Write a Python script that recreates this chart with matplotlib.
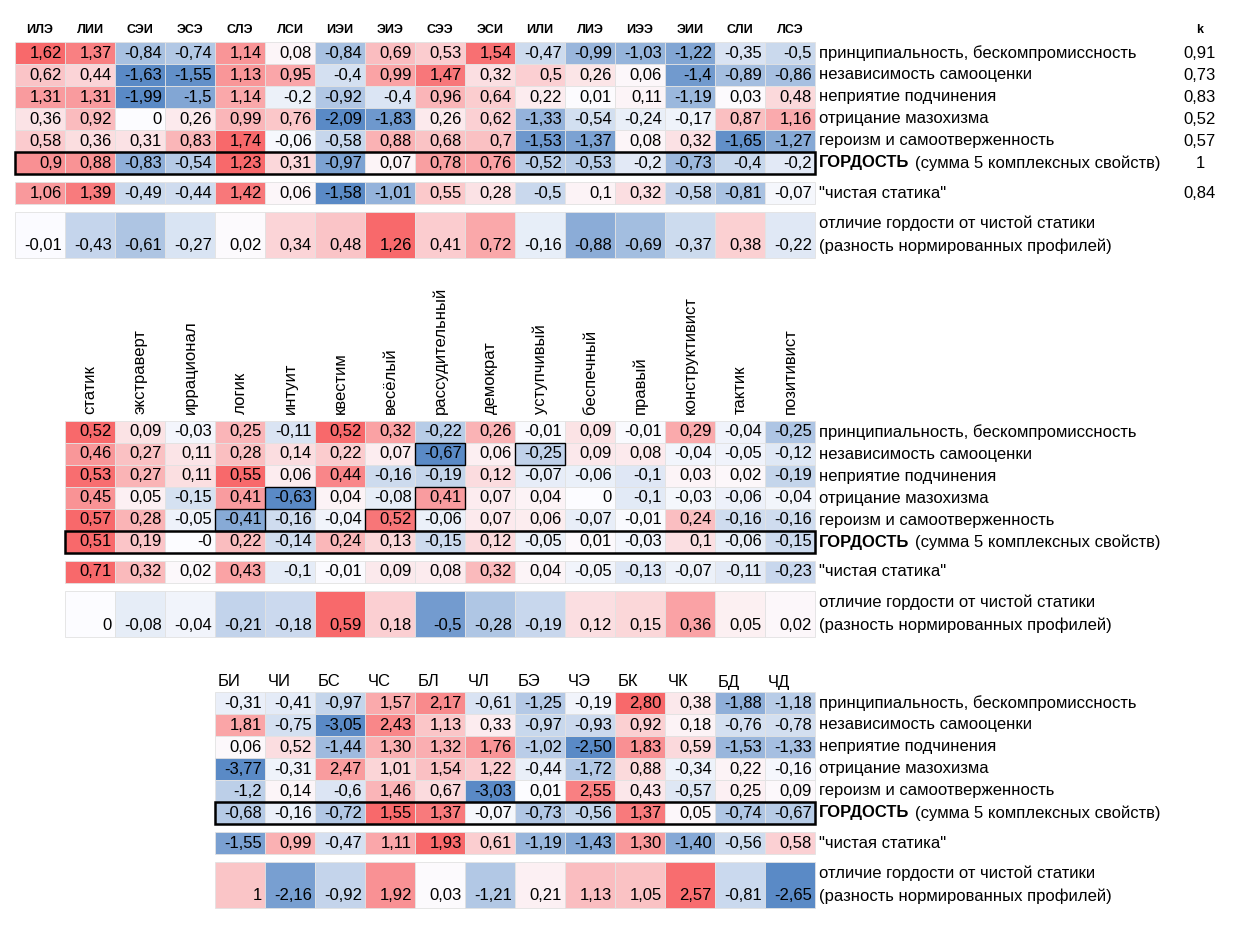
import matplotlib.pyplot as plt
from matplotlib.patches import Rectangle
import numpy as np

plt.rcParams['font.family'] = ['Liberation Sans', 'DejaVu Sans']

row_labels = ["принципиальность, бескомпромиссность", "независимость самооценки",
              "неприятие подчинения", "отрицание мазохизма", "героизм и самоотверженность"]

# table 1: sociotypes
types1 = ["ИЛЭ", "ЛИИ", "СЭИ", "ЭСЭ", "СЛЭ", "ЛСИ", "ИЭИ", "ЭИЭ",
          "СЭЭ", "ЭСИ", "ИЛИ", "ЛИЭ", "ИЭЭ", "ЭИИ", "СЛИ", "ЛСЭ"]
t1 = [
    "1,62 1,37 -0,84 -0,74 1,14 0,08 -0,84 0,69 0,53 1,54 -0,47 -0,99 -1,03 -1,22 -0,35 -0,5",
    "0,62 0,44 -1,63 -1,55 1,13 0,95 -0,4 0,99 1,47 0,32 0,5 0,26 0,06 -1,4 -0,89 -0,86",
    "1,31 1,31 -1,99 -1,5 1,14 -0,2 -0,92 -0,4 0,96 0,64 0,22 0,01 0,11 -1,19 0,03 0,48",
    "0,36 0,92 0 0,26 0,99 0,76 -2,09 -1,83 0,26 0,62 -1,33 -0,54 -0,24 -0,17 0,87 1,16",
    "0,58 0,36 0,31 0,83 1,74 -0,06 -0,58 0,88 0,68 0,7 -1,53 -1,37 0,08 0,32 -1,65 -1,27",
    "0,9 0,88 -0,83 -0,54 1,23 0,31 -0,97 0,07 0,78 0,76 -0,52 -0,53 -0,2 -0,73 -0,4 -0,2",
    "1,06 1,39 -0,49 -0,44 1,42 0,06 -1,58 -1,01 0,55 0,28 -0,5 0,1 0,32 -0,58 -0,81 -0,07",
    "-0,01 -0,43 -0,61 -0,27 0,02 0,34 0,48 1,26 0,41 0,72 -0,16 -0,88 -0,69 -0,37 0,38 -0,22",
]
k_values = ["0,91", "0,73", "0,83", "0,52", "0,57", "1", "0,84"]

# table 2: Reinin traits
traits2 = ["статик", "экстраверт", "иррационал", "логик", "интуит", "квестим", "весёлый",
           "рассудительный", "демократ", "уступчивый", "беспечный", "правый",
           "конструктивист", "тактик", "позитивист"]
t2 = [
    "0,52 0,09 -0,03 0,25 -0,11 0,52 0,32 -0,22 0,26 -0,01 0,09 -0,01 0,29 -0,04 -0,25",
    "0,46 0,27 0,11 0,28 0,14 0,22 0,07 -0,67 0,06 -0,25 0,09 0,08 -0,04 -0,05 -0,12",
    "0,53 0,27 0,11 0,55 0,06 0,44 -0,16 -0,19 0,12 -0,07 -0,06 -0,1 0,03 0,02 -0,19",
    "0,45 0,05 -0,15 0,41 -0,63 0,04 -0,08 0,41 0,07 0,04 0 -0,1 -0,03 -0,06 -0,04",
    "0,57 0,28 -0,05 -0,41 -0,16 -0,04 0,52 -0,06 0,07 0,06 -0,07 -0,01 0,24 -0,16 -0,16",
    "0,51 0,19 -0 0,22 -0,14 0,24 0,13 -0,15 0,12 -0,05 0,01 -0,03 0,1 -0,06 -0,15",
    "0,71 0,32 0,02 0,43 -0,1 -0,01 0,09 0,08 0,32 0,04 -0,05 -0,13 -0,07 -0,11 -0,23",
    "0 -0,08 -0,04 -0,21 -0,18 0,59 0,18 -0,5 -0,28 -0,19 0,12 0,15 0,36 0,05 0,02",
]
boxed2 = [(1, 7), (1, 9), (3, 4), (3, 7), (4, 3), (4, 6)]

# table 3: functions
funcs3 = ["БИ", "ЧИ", "БС", "ЧС", "БЛ", "ЧЛ", "БЭ", "ЧЭ", "БК", "ЧК", "БД", "ЧД"]
t3 = [
    "-0,31 -0,41 -0,97 1,57 2,17 -0,61 -1,25 -0,19 2,80 0,38 -1,88 -1,18",
    "1,81 -0,75 -3,05 2,43 1,13 0,33 -0,97 -0,93 0,92 0,18 -0,76 -0,78",
    "0,06 0,52 -1,44 1,30 1,32 1,76 -1,02 -2,50 1,83 0,59 -1,53 -1,33",
    "-3,77 -0,31 2,47 1,01 1,54 1,22 -0,44 -1,72 0,88 -0,34 0,22 -0,16",
    "-1,2 0,14 -0,6 1,46 0,67 -3,03 0,01 2,55 0,43 -0,57 0,25 0,09",
    "-0,68 -0,16 -0,72 1,55 1,37 -0,07 -0,73 -0,56 1,37 0,05 -0,74 -0,67",
    "-1,55 0,99 -0,47 1,11 1,93 0,61 -1,19 -1,43 1,30 -1,40 -0,56 0,58",
    "1 -2,16 -0,92 1,92 0,03 -1,21 0,21 1,13 1,05 2,57 -0,81 -2,65",
]

RED = np.array([248, 105, 107]) / 255
BLUE = np.array([90, 138, 198]) / 255
WHITE = np.array([252, 252, 255]) / 255


def cell_color(v, vmax):
    t = min(abs(v) / vmax, 1.0) if vmax else 0
    end = RED if v > 0 else BLUE
    return WHITE + (end - WHITE) * t


fig = plt.figure(figsize=(12.42, 9.42), dpi=100)
ax = fig.add_axes([0, 0, 1, 1])
ax.set_xlim(0, 1242)
ax.set_ylim(942, 0)
ax.axis("off")

FS = 12


def draw_table(rows, x0, cw, tops, heights, label_x, boxed=()):
    ncol = len(rows[0].split())
    for r, line in enumerate(rows):
        strs = line.split()
        vals = np.array([float(s.replace(",", ".")) for s in strs])
        vmax = np.abs(vals).max()
        top, h = tops[r], heights[r]
        for c, (s, v) in enumerate(zip(strs, vals)):
            x = x0 + c * cw
            ax.add_patch(Rectangle((x, top), cw, h, facecolor=cell_color(v, vmax),
                                   edgecolor="#e2e2e2", lw=0.6))
            ty = top + h / 2 if h < 30 else top + h - 12
            ax.text(x + cw - 3, ty, s, ha="right", va="center", fontsize=FS)
        if r < 5:
            ax.text(label_x, top + h / 2, row_labels[r], ha="left", va="center", fontsize=FS)
        elif r == 5:
            ax.text(label_x, top + h / 2, "ГОРДОСТЬ", ha="left", va="center",
                    fontsize=FS, fontweight="bold")
            ax.text(label_x + 96, top + h / 2, "(сумма 5 комплексных свойств)",
                    ha="left", va="center", fontsize=FS)
            ax.add_patch(Rectangle((x0, top), cw * ncol, h, fill=False,
                                   edgecolor="black", lw=1.8, zorder=5))
        elif r == 6:
            ax.text(label_x, top + h / 2, '"чистая статика"', ha="left", va="center", fontsize=FS)
        else:
            ax.text(label_x, top + h - 35, "отличие гордости от чистой статики",
                    ha="left", va="center", fontsize=FS)
            ax.text(label_x, top + h - 12, "(разность нормированных профилей)",
                    ha="left", va="center", fontsize=FS)
    for r, c in boxed:
        ax.add_patch(Rectangle((x0 + c * cw, tops[r]), cw, heights[r], fill=False,
                               edgecolor="black", lw=1.0, zorder=5))


heights = [22] * 7 + [46]

# table 1
tops1 = [42, 64, 86, 108, 130, 152, 182, 212]
for c, name in enumerate(types1):
    ax.text(15 + c * 50 + 25, 30, name, ha="center", va="center", fontsize=9, fontweight="bold")
draw_table(t1, 15, 50, tops1, heights, 819)
ax.text(1200, 30, "k", ha="center", va="center", fontsize=9, fontweight="bold")
for i, kv in enumerate(k_values):
    ax.text(1200, tops1[i] + 11, kv, ha="center", va="center", fontsize=FS)

# table 2
tops2 = [421, 443, 465, 487, 509, 531, 561, 591]
for c, name in enumerate(traits2):
    ax.text(65 + c * 50 + 25, 414, name, ha="center", va="bottom", rotation=90, fontsize=FS)
draw_table(t2, 65, 50, tops2, heights, 819, boxed2)

# table 3
tops3 = [692, 714, 736, 758, 780, 802, 832, 862]
for c, name in enumerate(funcs3):
    ax.text(215 + c * 50 + 3, 682, name, ha="left", va="center", fontsize=FS)
draw_table(t3, 215, 50, tops3, heights, 819)

fig.savefig("out.png", dpi=100)
